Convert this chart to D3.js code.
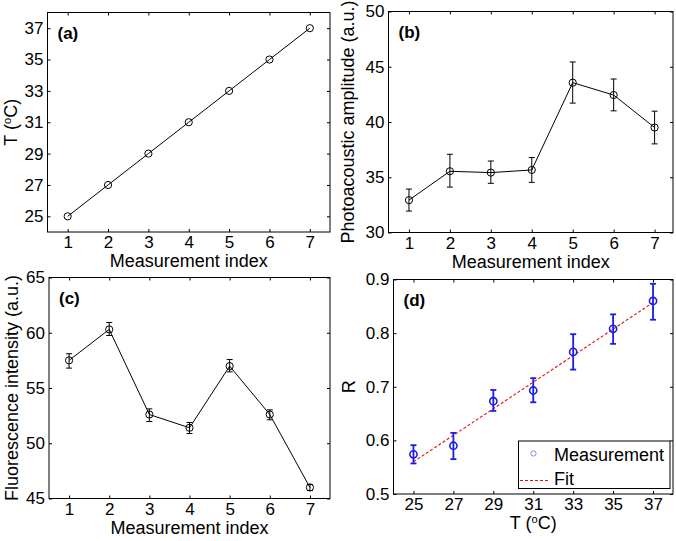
<!DOCTYPE html>
<html>
<head>
<meta charset="utf-8">
<script src="https://cdn.jsdelivr.net/npm/d3@7"></script>
<style>
  html, body { margin: 0; padding: 0; background: #fff; }
  text { font-family: "Liberation Sans", Arial, Helvetica, sans-serif; fill: #000; }
</style>
</head>
<body>
<svg id="chart" width="676" height="541"></svg>
<script>
// ---------------- data ----------------
const measurementIndex = [1, 2, 3, 4, 5, 6, 7];
const temperature = [25, 27, 29, 31, 33, 35, 37];

const paMean = [32.93, 35.54, 35.42, 35.66, 43.56, 42.44, 39.50];
const paLow  = [31.94, 34.11, 34.45, 34.54, 41.71, 41.01, 38.02];
const paHigh = [33.93, 37.08, 36.47, 36.78, 45.43, 43.89, 40.98];

const flMean = [57.50, 60.30, 52.60, 51.40, 56.98, 52.60, 46.00];
const flLow  = [56.80, 59.75, 51.97, 50.88, 56.46, 52.12, 45.72];
const flHigh = [58.10, 60.93, 53.11, 51.88, 57.58, 53.02, 46.27];

const rMean = [0.574, 0.590, 0.673, 0.693, 0.765, 0.808, 0.860];
const rLow  = [0.557, 0.565, 0.655, 0.671, 0.732, 0.780, 0.825];
const rHigh = [0.591, 0.614, 0.694, 0.716, 0.798, 0.835, 0.892];

const fitT = [25, 37];
const fitR = [0.560, 0.857];

const idxTicks = [1, 2, 3, 4, 5, 6, 7];
const tTicks = [25, 27, 29, 31, 33, 35, 37];
const paTicks = [30, 35, 40, 45, 50];
const flTicks = [45, 50, 55, 60, 65];
const rTicks = [0.5, 0.6, 0.7, 0.8, 0.9];

// ---------------- drawing ----------------
const svg = d3.select("#chart");
const TICK = 3;
const TICKFONT = 17;
const LABELFONT = 18;

function panel(opt) {
  const g = svg.append("g");
  const x = d3.scaleLinear().domain(opt.xDomain).range([opt.left, opt.right]);
  const y = d3.scaleLinear().domain(opt.yDomain).range([opt.bottom, opt.top]);

  // axes with inward ticks on all sides
  const axB = d3.axisBottom(x).tickValues(opt.xTicks).tickSizeInner(-TICK).tickSizeOuter(0).tickPadding(4).tickFormat(opt.xFmt || d3.format("d"));
  const axT = d3.axisTop(x).tickValues(opt.xTicks).tickSizeInner(-TICK).tickSizeOuter(0).tickFormat("");
  const axL = d3.axisLeft(y).tickValues(opt.yTicks).tickSizeInner(-TICK).tickSizeOuter(0).tickPadding(4).tickFormat(opt.yFmt || d3.format("d"));
  const axR = d3.axisRight(y).tickValues(opt.yTicks).tickSizeInner(-TICK).tickSizeOuter(0).tickFormat("");

  const gb = g.append("g").attr("transform", `translate(0,${opt.bottom})`).call(axB);
  const gt = g.append("g").attr("transform", `translate(0,${opt.top})`).call(axT);
  const gl = g.append("g").attr("transform", `translate(${opt.left},0)`).call(axL);
  const gr = g.append("g").attr("transform", `translate(${opt.right},0)`).call(axR);
  [gb, gt, gl, gr].forEach(a => {
    a.select(".domain").remove();
    a.selectAll(".tick line").attr("stroke", "#000").attr("stroke-width", 1);
    a.selectAll("text").attr("font-size", TICKFONT).attr("font-family", "Liberation Sans, Arial, sans-serif").attr("fill", "#000");
  });
  gb.selectAll("text").attr("dy", "0.71em");

  // box
  g.append("rect")
    .attr("x", opt.left).attr("y", opt.top)
    .attr("width", opt.right - opt.left).attr("height", opt.bottom - opt.top)
    .attr("fill", "none").attr("stroke", "#000").attr("stroke-width", 1);

  // x label
  const xl = g.append("text")
    .attr("x", (opt.left + opt.right) / 2)
    .attr("y", opt.bottom + 35)
    .attr("text-anchor", "middle")
    .attr("font-size", LABELFONT);
  opt.xLabel(xl);

  // y label
  const yl = g.append("text")
    .attr("transform", `translate(${opt.yLabelX},${(opt.top + opt.bottom) / 2}) rotate(-90)`)
    .attr("text-anchor", "middle")
    .attr("font-size", LABELFONT);
  opt.yLabel(yl);

  // panel tag
  g.append("text")
    .attr("x", opt.left + 10).attr("y", opt.top + 26)
    .attr("font-size", 17).attr("font-weight", "bold")
    .text(opt.tag);

  return { g, x, y };
}

function tempLabel(t) {
  t.append("tspan").text("T (");
  t.append("tspan").attr("font-size", 11).attr("dy", -6).text("o");
  t.append("tspan").attr("dy", 6).text("C)");
}

function series(p, xs, ys, lo, hi, color, capHalf, ebWidth, withLine) {
  const pts = xs.map((v, i) => ({ x: v, y: ys[i], lo: lo ? lo[i] : null, hi: hi ? hi[i] : null }));
  if (withLine) {
    p.g.append("path")
      .datum(pts)
      .attr("fill", "none").attr("stroke", color).attr("stroke-width", 1)
      .attr("d", d3.line().x(d => p.x(d.x)).y(d => p.y(d.y)));
  }
  if (lo) {
    const eb = p.g.append("g").attr("stroke", color).attr("stroke-width", ebWidth).attr("fill", "none");
    eb.selectAll(".v").data(pts).join("line")
      .attr("x1", d => p.x(d.x)).attr("x2", d => p.x(d.x))
      .attr("y1", d => p.y(d.lo)).attr("y2", d => p.y(d.hi));
    eb.selectAll(".t").data(pts).join("line")
      .attr("x1", d => p.x(d.x) - capHalf).attr("x2", d => p.x(d.x) + capHalf)
      .attr("y1", d => p.y(d.hi)).attr("y2", d => p.y(d.hi));
    eb.selectAll(".b").data(pts).join("line")
      .attr("x1", d => p.x(d.x) - capHalf).attr("x2", d => p.x(d.x) + capHalf)
      .attr("y1", d => p.y(d.lo)).attr("y2", d => p.y(d.lo));
  }
  p.g.append("g").selectAll("circle").data(pts).join("circle")
    .attr("cx", d => p.x(d.x)).attr("cy", d => p.y(d.y))
    .attr("r", 3.6)
    .attr("fill", "none").attr("stroke", color).attr("stroke-width", withLine ? 1 : 1.6);
}

// (a)
const pa = panel({
  left: 47.5, right: 330, top: 12.5, bottom: 232,
  xDomain: [0.5, 7.5], yDomain: [24, 38],
  xTicks: idxTicks, yTicks: tTicks,
  yLabelX: 17, tag: "(a)",
  xLabel: t => t.text("Measurement index"),
  yLabel: tempLabel
});
series(pa, measurementIndex, temperature, null, null, "#000", 3, 1, true);

// (b)
const pb = panel({
  left: 388.5, right: 673, top: 11.5, bottom: 232.5,
  xDomain: [0.5, 7.45], yDomain: [30, 50],
  xTicks: idxTicks, yTicks: paTicks,
  yLabelX: 354, tag: "(b)",
  xLabel: t => t.text("Measurement index"),
  yLabel: t => t.text("Photoacoustic amplitude (a.u.)")
});
series(pb, measurementIndex, paMean, paLow, paHigh, "#000", 3, 1, true);

// (c)
const pc = panel({
  left: 49, right: 330, top: 277.5, bottom: 498.5,
  xDomain: [0.5, 7.5], yDomain: [45, 65],
  xTicks: idxTicks, yTicks: flTicks,
  yLabelX: 18, tag: "(c)",
  xLabel: t => t.text("Measurement index"),
  yLabel: t => t.text("Fluorescence intensity (a.u.)")
});
series(pc, measurementIndex, flMean, flLow, flHigh, "#000", 3, 1, true);

// (d)
const pd = panel({
  left: 393.5, right: 673, top: 279.5, bottom: 494,
  xDomain: [24, 38], yDomain: [0.5, 0.9],
  xTicks: tTicks, yTicks: rTicks,
  yFmt: d3.format(".1f"),
  yLabelX: 355, tag: "(d)",
  xLabel: tempLabel,
  yLabel: t => t.text("R")
});
// fit line
pd.g.append("path")
  .datum(fitT.map((t, i) => [t, fitR[i]]))
  .attr("fill", "none").attr("stroke", "#e01010").attr("stroke-width", 1.1)
  .attr("stroke-dasharray", "3,2")
  .attr("d", d3.line().x(d => pd.x(d[0])).y(d => pd.y(d[1])));
series(pd, temperature, rMean, rLow, rHigh, "#1c1ce6", 3, 1.8, false);

// legend
const lg = pd.g.append("g");
lg.append("rect")
  .attr("x", 518.5).attr("y", 441).attr("width", 151.5).attr("height", 47.5)
  .attr("fill", "#fff").attr("stroke", "#000").attr("stroke-width", 1);
lg.append("circle").attr("cx", 533.5).attr("cy", 453.5).attr("r", 2.6)
  .attr("fill", "none").attr("stroke", "#8a8ae8").attr("stroke-width", 1);
lg.append("text").attr("x", 554).attr("y", 461).attr("font-size", LABELFONT).text("Measurement");
lg.append("line").attr("x1", 520).attr("x2", 550).attr("y1", 480.5).attr("y2", 480.5)
  .attr("stroke", "#e01010").attr("stroke-width", 1.1).attr("stroke-dasharray", "3,2");
lg.append("text").attr("x", 554).attr("y", 485).attr("font-size", LABELFONT).text("Fit");
</script>
</body>
</html>
